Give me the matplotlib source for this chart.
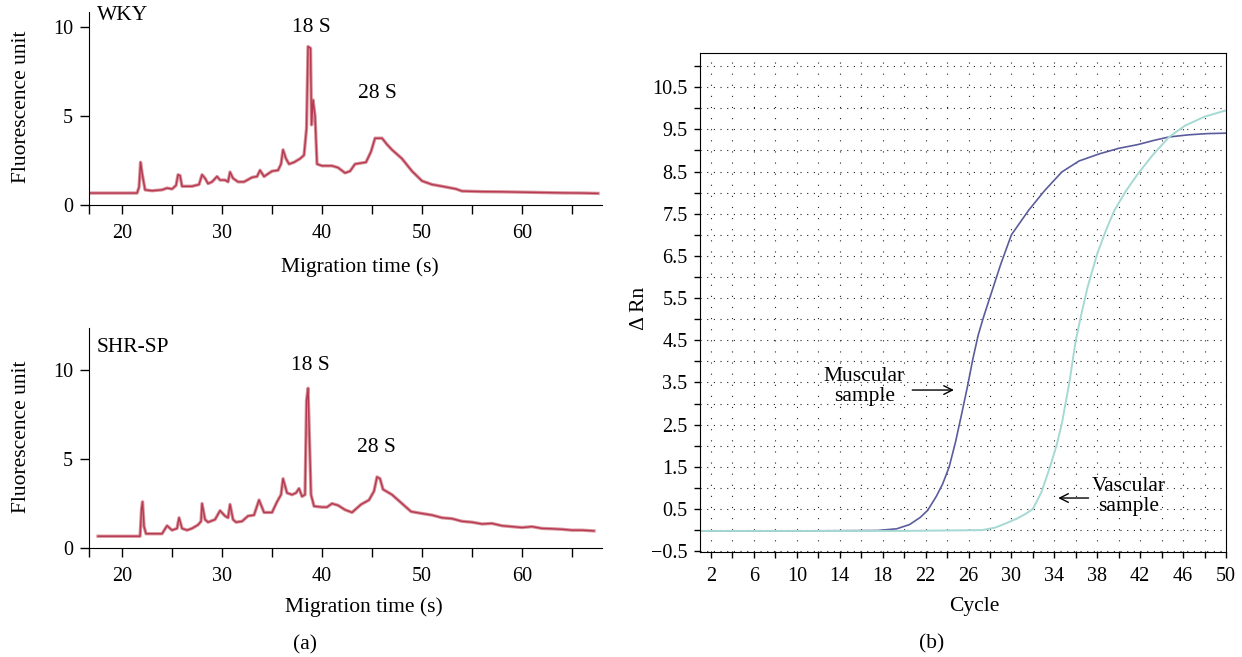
import matplotlib.pyplot as plt
from matplotlib.ticker import MultipleLocator, FixedLocator
import numpy as np

plt.rcParams['font.family'] = ['Liberation Serif', 'DejaVu Serif']
plt.rcParams['font.size'] = 15.5
plt.rcParams['xtick.labelsize'] = 14.5
plt.rcParams['ytick.labelsize'] = 14.5

# Panel (a): electropherograms
wky_time = [16.7, 21.5, 21.7, 21.85, 22.0, 22.3, 23.0, 24.0, 24.5, 25.0, 25.4, 25.6, 25.8, 26.0,
            27.0, 27.7, 28.0, 28.3, 28.6, 29.0, 29.5, 29.8, 30.3, 30.6, 30.8, 31.1, 31.6, 32.2,
            33.0, 33.5, 33.8, 34.2, 34.6, 35.0, 35.6, 35.9, 36.1, 36.4, 36.7, 37.2, 37.8, 38.2,
            38.45, 38.6, 38.85, 38.95, 39.1, 39.3, 39.5, 40.0, 41.0, 41.6, 42.3, 42.8, 43.3,
            44.4, 44.9, 45.3, 46.0, 46.5, 47.0, 48.0, 49.0, 50.0, 51.0, 52.0, 53.4, 54.0, 56.0,
            58.0, 60.0, 62.0, 64.0, 66.0, 67.6]
wky_fluo = [0.67, 0.67, 1.0, 2.4, 1.8, 0.85, 0.8, 0.85, 0.95, 0.9, 1.1, 1.7, 1.65, 1.05,
            1.05, 1.15, 1.7, 1.5, 1.2, 1.3, 1.6, 1.4, 1.4, 1.3, 1.85, 1.5, 1.3, 1.3,
            1.55, 1.6, 1.95, 1.6, 1.75, 1.9, 1.95, 2.3, 3.1, 2.6, 2.3, 2.4, 2.6, 2.8,
            4.3, 8.9, 8.8, 4.5, 5.9, 5.0, 2.3, 2.2, 2.2, 2.1, 1.8, 1.9, 2.3,
            2.4, 3.0, 3.75, 3.75, 3.4, 3.1, 2.6, 1.9, 1.35, 1.15, 1.05, 0.9, 0.78, 0.75,
            0.74, 0.72, 0.7, 0.68, 0.67, 0.65]

shr_time = [17.6, 21.8, 21.95, 22.05, 22.2, 22.4, 24.0, 24.5, 25.0, 25.5, 25.7, 26.0, 26.5,
            27.0, 27.6, 27.9, 28.0, 28.3, 28.6, 29.3, 29.8, 30.3, 30.6, 30.8, 31.1, 31.4, 32.0,
            32.6, 33.2, 33.7, 34.2, 35.0, 35.5, 35.9, 36.1, 36.5, 37.0, 37.4, 37.7, 38.0, 38.3,
            38.45, 38.6, 38.75, 38.9, 39.2, 40.0, 40.5, 41.0, 41.6, 42.3, 43.0, 43.9, 44.7,
            45.2, 45.5, 45.8, 46.1, 47.0, 48.0, 48.9, 49.9, 51.0, 52.0, 53.0, 54.0, 55.0, 56.0,
            57.0, 58.0, 59.0, 60.0, 61.0, 62.0, 63.0, 64.0, 65.0, 66.0, 67.2]
shr_fluo = [0.66, 0.66, 2.2, 2.6, 1.2, 0.8, 0.8, 1.25, 1.0, 1.1, 1.7, 1.1, 1.0,
            1.1, 1.3, 1.5, 2.5, 1.6, 1.45, 1.6, 2.1, 1.8, 1.7, 2.45, 1.6, 1.45, 1.5,
            1.8, 1.85, 2.7, 2.0, 2.0, 2.6, 3.0, 3.9, 3.1, 3.0, 3.1, 3.35, 2.9, 3.0,
            8.3, 9.0, 6.0, 3.0, 2.35, 2.3, 2.3, 2.5, 2.4, 2.15, 2.0, 2.45, 2.7,
            3.2, 4.0, 3.9, 3.3, 3.0, 2.5, 2.05, 1.95, 1.85, 1.7, 1.65, 1.5, 1.45, 1.35,
            1.38, 1.25, 1.2, 1.15, 1.2, 1.1, 1.08, 1.05, 1.0, 1.0, 0.96]

# Panel (b): amplification curves
musc_cycle = [1.0, 10, 17.5, 19.3, 20.5, 21.5, 22.2, 23.0, 23.6, 24.2, 24.8, 25.4, 25.9, 26.4,
              26.9, 27.4, 28.0, 29.0, 30.0, 31.6, 33.1, 34.7, 36.3, 38.2, 40.0, 41.8, 43.3,
              44.7, 46.5, 48.3, 50.0]
musc_rn = [-0.02, -0.02, -0.01, 0.03, 0.13, 0.3, 0.47, 0.8, 1.1, 1.5, 2.1, 2.8, 3.4, 4.05,
           4.62, 5.05, 5.52, 6.3, 7.0, 7.58, 8.05, 8.49, 8.75, 8.92, 9.05, 9.14, 9.24,
           9.32, 9.37, 9.4, 9.41]
vasc_cycle = [1.0, 20, 27.3, 28.5, 29.5, 30.5, 31.3, 32.0, 32.8, 33.6, 34.2, 34.7, 35.4, 36.0,
              36.5, 37.1, 38.0, 38.8, 39.6, 40.7, 41.8, 43.2, 44.7, 46.2, 48.0, 50.0]
vasc_rn = [-0.02, -0.02, 0.0, 0.06, 0.16, 0.27, 0.38, 0.5, 0.9, 1.5, 2.0, 2.52, 3.5, 4.5,
           5.1, 5.76, 6.55, 7.1, 7.58, 8.05, 8.45, 8.9, 9.32, 9.59, 9.8, 9.95]

fig = plt.figure(figsize=(12.42, 6.57), dpi=100)


def electro_axes(rect, t, f, ytop, name, name_y, lbl18, lbl28):
    ax = fig.add_axes(rect)
    ax.plot(t, f, color='#d8939a', lw=2.4, solid_joinstyle='round')
    ax.plot(t, f, color='#b02845', lw=1.0, alpha=0.85)
    ax.set_xlim(16.7, 68.0)
    ax.set_ylim(0, ytop)
    ax.spines['top'].set_visible(False)
    ax.spines['right'].set_visible(False)
    ax.xaxis.set_major_locator(MultipleLocator(10))
    ax.xaxis.set_minor_locator(FixedLocator([16.7, 25, 35, 45, 55, 65]))
    ax.set_yticks([0, 5, 10])
    ax.tick_params(axis='both', which='both', direction='out', length=6.5, width=1)
    ax.tick_params(axis='x', pad=7)
    ax.tick_params(axis='y', pad=5)
    ax.text(17.5, name_y, name, va='center', ha='left')
    ax.text(lbl18[0], lbl18[1], '18 S', ha='center', va='center')
    ax.text(lbl28[0], lbl28[1], '28 S', ha='center', va='center')
    return ax


electro_axes([0.0717, 0.688, 0.413, 0.294], wky_time, wky_fluo, 10.85, 'WKY', 10.67,
             (38.9, 9.98), (45.5, 6.27))
electro_axes([0.0717, 0.166, 0.413, 0.335], shr_time, shr_fluo, 12.4, 'SHR-SP', 11.3,
             (38.8, 10.3), (45.4, 5.65))

fig.text(22 / 1242, 1 - 107 / 657, 'Fluorescence unit', rotation=90, ha='center', va='center')
fig.text(22 / 1242, 1 - 437 / 657, 'Fluorescence unit', rotation=90, ha='center', va='center')
fig.text(360 / 1242, 1 - 267 / 657, 'Migration time (s)', ha='center', va='center')
fig.text(364 / 1242, 1 - 607 / 657, 'Migration time (s)', ha='center', va='center')
fig.text(305 / 1242, 1 - 645 / 657, '(a)', ha='center', va='center')

# Panel (b)
axb = fig.add_axes([0.5636, 0.1598, 0.4235, 0.7595])
axb.plot(musc_cycle, musc_rn, color='#5a5c9c', lw=1.2)
axb.plot(vasc_cycle, vasc_rn, color='#a6d9d3', lw=1.4)
axb.set_xlim(0.97, 50)
axb.set_ylim(-0.52, 11.31)
axb.set_xticks(np.arange(2, 51, 4))
axb.xaxis.set_minor_locator(FixedLocator(np.arange(4, 50, 4)))
axb.set_yticks(np.arange(-0.5, 11, 1.0))
axb.yaxis.set_minor_locator(FixedLocator(np.arange(0.0, 11.3, 1.0)))
axb.tick_params(axis='both', which='both', direction='out', length=4, width=1)
axb.tick_params(axis='x', pad=7)
axb.tick_params(axis='y', pad=5)
axb.yaxis.grid(True, which='both', linestyle=(0, (1, 5)), color='#222222', lw=0.8)
axb.xaxis.grid(True, which='both', linestyle=(0, (1, 9)), color='#222222', lw=0.8)
axb.set_axisbelow(True)

axb.annotate('', xy=(24.9, 3.32), xytext=(20.5, 3.32),
             arrowprops=dict(arrowstyle='->', color='black', lw=1))
axb.text(16.3, 3.41, 'Muscular\nsample', ha='center', va='center', linespacing=1.05)
axb.annotate('', xy=(34.1, 0.76), xytext=(37.45, 0.76),
             arrowprops=dict(arrowstyle='->', color='black', lw=1))
axb.text(40.9, 0.8, 'Vascular\nsample', ha='center', va='center', linespacing=1.05)

fig.text(640 / 1242, 1 - 308 / 657, 'Δ Rn', rotation=90, ha='center', va='center')
fig.text(974 / 1242, 1 - 607 / 657, 'Cycle', ha='center', va='center')
fig.text(932 / 1242, 1 - 644 / 657, '(b)', ha='center', va='center')

fig.savefig('out.png', dpi=100)
